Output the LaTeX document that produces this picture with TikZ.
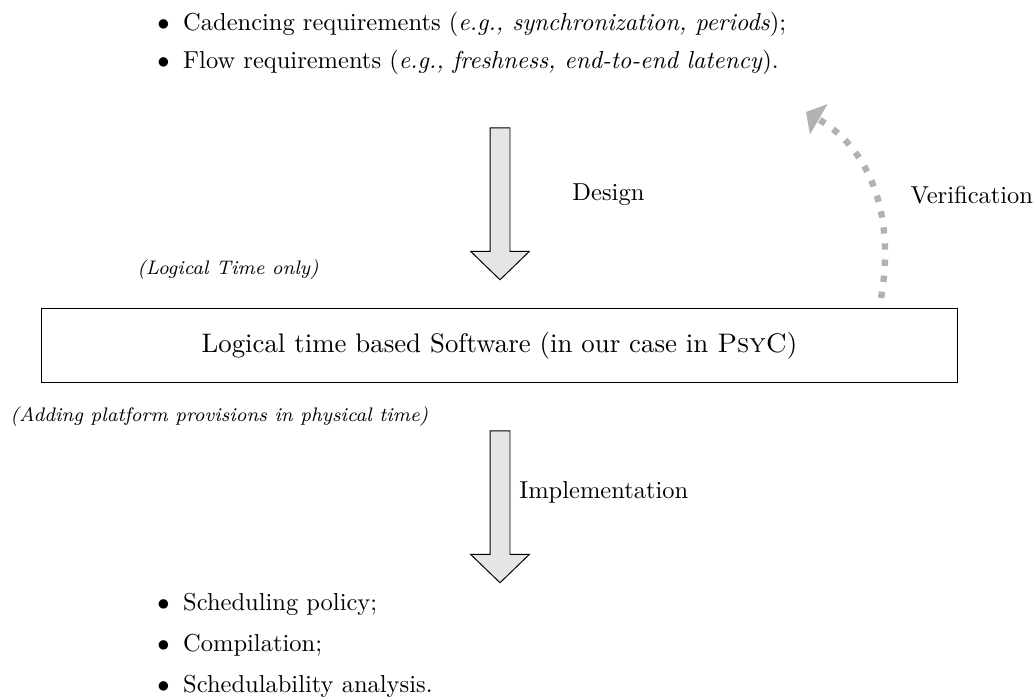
\documentclass[tikz,border=0pt]{standalone}
\usetikzlibrary{shapes.arrows,arrows.meta}
\begin{document}
\begin{tikzpicture}[x=0.4082pt, y=0.4082pt,
  blockarrow/.style={single arrow, draw, fill=gray!20, rotate=-90, minimum height=62pt, minimum width=1pt, single arrow head extend=7.96pt, single arrow tip angle=92, inner xsep=0pt, inner ysep=3.88pt},
  item/.style={anchor=base west, inner sep=0pt},
  note/.style={inner sep=0pt, font=\fontsize{8}{9.5}\selectfont\itshape},
  verif/.style={gray!60, line width=2.6pt, dash pattern=on 2.6pt off 4pt, -{Triangle[length=6pt, width=14pt]}}]
\useasboundingbox (0,0) rectangle (1035,700);
\node[item] (cad) at (157,669){$\bullet$\hspace{5.5pt}Cadencing requirements (\textit{e.g., synchronization, periods});};
\node[item] (flow) at (157,631){$\bullet$\hspace{5.5pt}Flow requirements (\textit{e.g., freshness, end-to-end latency}).};
\node[blockarrow] (design) at (500,501){};
\node[anchor=west, inner sep=0pt] (designlbl) at (572,505){Design};
\node[note] (logical) at (228,430){(Logical Time only)};
\node[draw, minimum width=374.3pt, minimum height=30.6pt, font=\fontsize{10.95}{13.6}\selectfont] (sw) at (499.5,354.5){Logical time based Software (in our case in \textsc{PsyC})};
\coordinate (vfrom) at (881,402);
\coordinate (vto) at (806,588);
\draw[verif] (vfrom) to[out=80, in=-30] (vto);
\node[anchor=west, inner sep=0pt] (veriflbl) at (910,505){Verification};
\node[note, anchor=west] (adding) at (10,283){(Adding platform provisions in physical time)};
\node[blockarrow] (impl) at (500,198){};
\node[anchor=west, inner sep=0pt] (impllbl) at (519,208){Implementation};
\node[item] (sched) at (157,89){$\bullet$\hspace{5.5pt}Scheduling policy;};
\node[item] (comp) at (157,48){$\bullet$\hspace{5.5pt}Compilation;};
\node[item] (anal) at (157,7){$\bullet$\hspace{5.5pt}Schedulability analysis.};
\end{tikzpicture}
\end{document}
